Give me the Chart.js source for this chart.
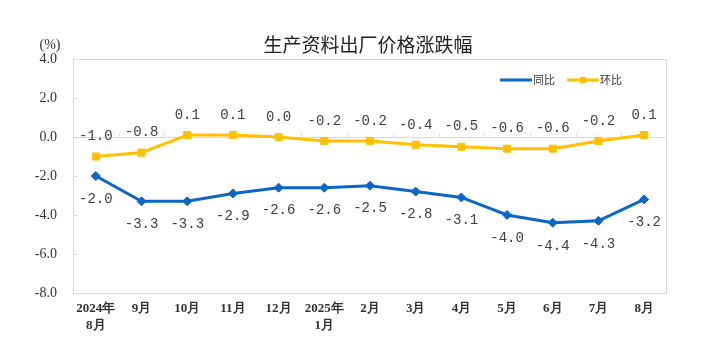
<!DOCTYPE html>
<html>
<head>
<meta charset="utf-8">
<script src="https://cdn.jsdelivr.net/npm/chart.js@4.4.1/dist/chart.umd.min.js"></script>
<style>
  html, body { margin: 0; padding: 0; background: #fff; }
  #wrap { width: 711px; height: 347px; }
</style>
</head>
<body>
<div id="wrap"><canvas id="myChart" width="711" height="347"></canvas></div>
<script>
const months = [['2024年', '8月'], '9月', '10月', '11月', '12月', ['2025年', '1月'],
  '2月', '3月', '4月', '5月', '6月', '7月', '8月'];
const yoy = [-2.0, -3.3, -3.3, -2.9, -2.6, -2.6, -2.5, -2.8, -3.1, -4.0, -4.4, -4.3, -3.2];
const mom = [-1.0, -0.8, 0.1, 0.1, 0.0, -0.2, -0.2, -0.4, -0.5, -0.6, -0.6, -0.2, 0.1];
const yTicks = [4, 2, 0, -2, -4, -6, -8];

const BLUE = '#0b66c8';
const YELLOW = '#ffc000';
const GRAY = '#d9d9d9';

// title, unit, border, zero-line ticks, labels, legend
const decor = {
  id: 'decor',
  beforeDatasetsDraw(chart) {
    const { ctx, chartArea: a, scales } = chart;
    ctx.save();
    ctx.strokeStyle = GRAY;
    ctx.lineWidth = 1;
    ctx.strokeRect(a.left + 0.5, a.top + 0.5, a.right - a.left - 1, a.bottom - a.top);
    const y0 = Math.round(scales.y.getPixelForValue(0)) + 0.5;
    ctx.beginPath();
    for (let i = 1; i < months.length; i++) {
      const x = Math.round((scales.x.getPixelForValue(i - 1) + scales.x.getPixelForValue(i)) / 2) + 0.5;
      ctx.moveTo(x, y0);
      ctx.lineTo(x, y0 - 4);
    }
    // small inward ticks on the value axis
    yTicks.forEach((v) => {
      const y = Math.round(scales.y.getPixelForValue(v)) + 0.5;
      ctx.moveTo(a.left, y);
      ctx.lineTo(a.left + 4, y);
    });
    ctx.stroke();
    ctx.restore();
  },
  afterDraw(chart) {
    const { ctx } = chart;
    ctx.save();
    ctx.fillStyle = '#222';
    ctx.font = '19px "Noto Sans CJK SC"';
    ctx.textAlign = 'center';
    ctx.textBaseline = 'middle';
    ctx.fillText('生产资料出厂价格涨跌幅', 368, 45);
    ctx.fillStyle = '#333';
    ctx.font = '14px "Liberation Serif"';
    ctx.fillText('(%)', 50, 45);

    // point labels
    ctx.font = '14px "Liberation Mono"';
    ctx.fillStyle = '#404040';
    chart.data.datasets.forEach((ds, di) => {
      const meta = chart.getDatasetMeta(di);
      const dy = di === 0 ? 23 : -20;
      meta.data.forEach((pt, i) => {
        ctx.fillText(ds.data[i].toFixed(1), pt.x, pt.y + dy);
      });
    });

    // legend
    ctx.font = '11px "Noto Sans CJK SC"';
    ctx.textAlign = 'left';
    let x = 500;
    const y = 80;
    chart.data.datasets.forEach((ds) => {
      ctx.strokeStyle = ds.borderColor;
      ctx.lineWidth = 3;
      ctx.beginPath();
      ctx.moveTo(x, y);
      ctx.lineTo(x + 32, y);
      ctx.stroke();
      if (ds.pointStyle === 'rect') {
        ctx.fillStyle = ds.borderColor;
        ctx.fillRect(x + 13, y - 3, 6, 6);
      }
      ctx.fillStyle = '#333';
      ctx.fillText(ds.label, x + 33, y);
      x += 67;
    });
    ctx.restore();
  },
};

const ctx = document.querySelector('#myChart');
// eslint-disable-next-line no-unused-vars
const lineChart = new Chart(ctx, {
  type: 'line',
  data: {
    labels: months,
    datasets: [{
      label: '同比',
      data: yoy,
      borderColor: BLUE,
      backgroundColor: BLUE,
      borderWidth: 3,
      pointStyle: 'rectRot',
      pointRadius: 4.5,
      pointBorderWidth: 1,
    }, {
      label: '环比',
      data: mom,
      borderColor: YELLOW,
      backgroundColor: YELLOW,
      borderWidth: 3,
      pointStyle: 'rect',
      pointRadius: 5,
      pointBorderWidth: 1,
    }],
  },
  options: {
    responsive: false,
    animation: false,
    layout: { padding: { top: 59, right: 44, left: 0, bottom: 0 } },
    plugins: { legend: { display: false }, tooltip: { enabled: false } },
    scales: {
      x: {
        offset: true,
        grid: { display: false },
        border: { display: false },
        ticks: {
          color: '#333',
          padding: 0,
          maxRotation: 0,
          autoSkip: false,
          font: { family: 'Liberation Serif', size: 13, weight: 'bold', lineHeight: 1.25 },
        },
        afterFit: (s) => { s.height = 54; },
      },
      y: {
        min: -8,
        max: 4,
        afterBuildTicks: (s) => { s.ticks = yTicks.map((v) => ({ value: v })); },
        grid: {
          color: (c) => (c.tick && c.tick.value === 0 ? GRAY : 'transparent'),
          drawTicks: false,
        },
        border: { display: false },
        ticks: {
          color: '#333',
          padding: 16,
          font: { family: 'Liberation Serif', size: 14 },
          callback: (v) => v.toFixed(1),
        },
        afterFit: (s) => { s.width = 73; },
      },
    },
  },
  plugins: [decor],
});
</script>
</body>
</html>
